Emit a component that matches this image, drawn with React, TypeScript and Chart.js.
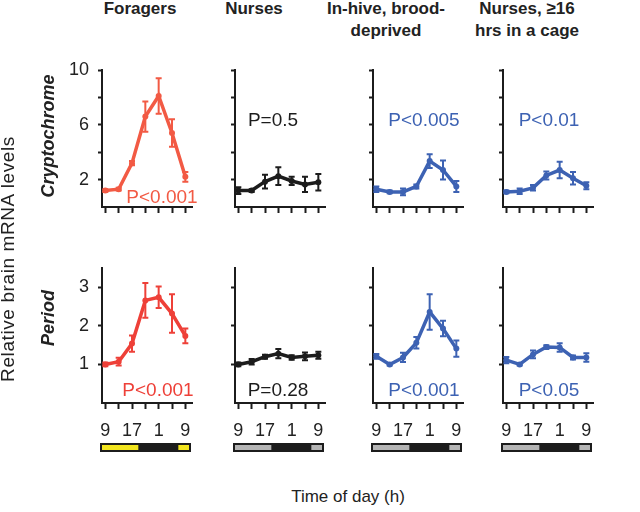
import React, { useEffect, useRef } from "react";
import { Chart, registerables } from "chart.js";

Chart.register(...registerables);

// ---------- data ----------
const hoursSince9 = [0, 4, 8, 12, 16, 20, 24];
const timeLabels = ["9", "13", "17", "21", "1", "5", "9"];
const shownTimeLabels = ["9", "", "17", "", "1", "", "9"];

const groups = ["Foragers", "Nurses", "In-hive, brood-deprived", "Nurses, ≥16 hrs in a cage"];

const cryForagers = [1.2, 1.3, 3.2, 6.6, 8.1, 5.4, 2.2];
const cryForagersSem = [0.1, 0.1, 0.15, 1.1, 1.3, 1.0, 0.35];
const cryNurses = [1.2, 1.2, 1.85, 2.25, 1.9, 1.65, 1.8];
const cryNursesSem = [0.25, 0.1, 0.5, 0.65, 0.3, 0.55, 0.6];
const cryDeprived = [1.3, 1.1, 1.1, 1.5, 3.35, 2.7, 1.5];
const cryDeprivedSem = [0.2, 0.1, 0.25, 0.15, 0.5, 0.7, 0.4];
const cryCage = [1.1, 1.15, 1.4, 2.3, 2.7, 2.1, 1.55];
const cryCageSem = [0.1, 0.2, 0.2, 0.3, 0.6, 0.45, 0.25];

const perForagers = [1.0, 1.07, 1.54, 2.66, 2.74, 2.32, 1.74];
const perForagersSem = [0.05, 0.1, 0.21, 0.45, 0.28, 0.5, 0.19];
const perNurses = [1.0, 1.07, 1.2, 1.28, 1.18, 1.21, 1.24];
const perNursesSem = [0.05, 0.07, 0.05, 0.12, 0.06, 0.1, 0.09];
const perDeprived = [1.21, 1.0, 1.18, 1.56, 2.36, 1.93, 1.41];
const perDeprivedSem = [0.06, 0.03, 0.12, 0.15, 0.46, 0.2, 0.21];
const perCage = [1.11, 1.0, 1.26, 1.45, 1.44, 1.18, 1.18];
const perCageSem = [0.08, 0.03, 0.1, 0.05, 0.11, 0.05, 0.11];

const cryPValues = ["P<0.001", "P=0.5", "P<0.005", "P<0.01"];
const perPValues = ["P<0.001", "P=0.28", "P<0.001", "P<0.05"];

const cryTicks = [2, 4, 6, 8, 10];
const cryTickLabels = [2, 6, 10];
const perTicks = [1, 2, 3];

// light/dark bar in hours since 09:00
const lightBarStart = -1.6;
const lightBarEnd = 25.7;
const lightStarts = [-1.6, 21.9];
const lightEnds = [9.9, 25.7];

// ---------- styles ----------
const AXIS = "#1c1c1c";
const RED_TOP = "#F25A44";
const RED_BOT = "#EE4038";
const BLUE = "#3D62B3";
const BLACK = "#1c1c1c";
const FONT = "'Liberation Sans', Arial, sans-serif";
Chart.defaults.font.family = FONT;

const colX = [102, 235, 373, 503];

const errorBars = {
  id: "errorBars",
  afterDatasetsDraw(chart: any) {
    const { ctx } = chart;
    const xs = chart.scales.x;
    const ys = chart.scales.y;
    chart.data.datasets.forEach((ds: any) => {
      if (!ds.sem) return;
      ctx.save();
      ctx.strokeStyle = ds.borderColor;
      ctx.lineWidth = 2;
      ds.data.forEach((p: any, i: number) => {
        const px = xs.getPixelForValue(p.x);
        const lo = ys.getPixelForValue(p.y - ds.sem[i]);
        const hi = ys.getPixelForValue(p.y + ds.sem[i]);
        ctx.beginPath();
        ctx.moveTo(px, lo);
        ctx.lineTo(px, hi);
        ctx.moveTo(px - 3, lo);
        ctx.lineTo(px + 3, lo);
        ctx.moveTo(px - 3, hi);
        ctx.lineTo(px + 3, hi);
        ctx.stroke();
      });
      ctx.restore();
    });
  },
};

const lightBar = {
  id: "lightBar",
  afterDraw(chart: any, _args: any, opts: any) {
    if (!opts || !opts.show) return;
    const { ctx } = chart;
    const xs = chart.scales.x;
    const top = chart.chartArea.bottom + 40;
    const h = 9;
    ctx.save();
    ctx.fillStyle = AXIS;
    const x0 = xs.getPixelForValue(lightBarStart);
    const x1 = xs.getPixelForValue(lightBarEnd);
    ctx.fillRect(x0, top, x1 - x0, h);
    ctx.fillStyle = opts.color;
    lightStarts.forEach((s, i) => {
      const a = Math.max(xs.getPixelForValue(s), x0 + 2);
      const b = Math.min(xs.getPixelForValue(lightEnds[i]), x1 - 2);
      ctx.fillRect(a, top + 2, b - a, h - 4);
    });
    ctx.restore();
  },
};

type PanelProps = {
  col: number;
  bottom: boolean;
  values: number[];
  sem: number[];
  color: string;
};

function Panel({ col, bottom, values, sem, color }: PanelProps) {
  const ref = useRef<HTMLCanvasElement>(null);
  const left = colX[col] - 45;
  const top = bottom ? 255 : 55;
  const width = 140;
  const height = bottom ? 205 : 162;

  useEffect(() => {
    if (!ref.current) return;
    const yTicks = bottom ? perTicks : cryTicks;
    const chart = new Chart(ref.current, {
      type: "line",
      data: {
        datasets: [
          {
            data: hoursSince9.map((h, i) => ({ x: h, y: values[i] })),
            borderColor: color,
            backgroundColor: color,
            borderWidth: 3.5,
            pointRadius: 3,
            pointBorderWidth: 0,
            tension: 0,
            sem,
          } as any,
        ],
      },
      options: {
        animation: false,
        responsive: false,
        maintainAspectRatio: false,
        layout: { padding: { top: bottom ? 13 : 15, right: 5, left: 0, bottom: 0 } },
        plugins: {
          legend: { display: false },
          tooltip: { enabled: false },
          lightBar: { show: bottom, color: col === 0 ? "#F2E51E" : "#B4B4B4" },
        } as any,
        scales: {
          x: {
            type: "linear",
            min: -1,
            max: 26,
            afterBuildTicks: (s: any) => {
              s.ticks = hoursSince9.map((v) => ({ value: v }));
            },
            afterFit: (s: any) => {
              s.height = bottom ? 57 : 10;
              s.paddingLeft = 0;
              s.paddingRight = 0;
            },
            grid: {
              drawOnChartArea: false,
              drawTicks: true,
              tickLength: 6,
              tickWidth: 2,
              tickColor: AXIS,
            },
            border: { display: true, color: AXIS, width: 2 },
            ticks: {
              autoSkip: false,
              maxRotation: 0,
              padding: 11,
              color: "#222",
              font: { size: 18, family: FONT },
              callback: (v: any) => {
                if (!bottom) return "";
                const i = hoursSince9.indexOf(Number(v));
                return i >= 0 && shownTimeLabels[i] === timeLabels[i] ? timeLabels[i] : "";
              },
            },
          },
          y: {
            type: "linear",
            min: 0,
            max: bottom ? 3.5 : 10,
            afterBuildTicks: (s: any) => {
              s.ticks = yTicks.map((v) => ({ value: v }));
            },
            afterFit: (s: any) => {
              s.width = 45;
              s.paddingTop = 0;
              s.paddingBottom = 0;
            },
            grid: {
              drawOnChartArea: false,
              drawTicks: true,
              tickLength: 4,
              tickWidth: 2,
              tickColor: AXIS,
            },
            border: { display: true, color: AXIS, width: 2 },
            ticks: {
              padding: 9,
              color: "#222",
              font: { size: 18, family: FONT },
              callback: (v: any) => {
                if (col !== 0) return "";
                if (bottom) return String(v);
                return cryTickLabels.includes(Number(v)) ? String(v) : "";
              },
            },
          },
        },
      },
      plugins: [errorBars, lightBar],
    });
    return () => chart.destroy();
  }, []);

  return (
    <canvas
      ref={ref}
      width={width}
      height={height}
      style={{ position: "absolute", left, top, width, height }}
    />
  );
}

const txt: React.CSSProperties = {
  position: "absolute",
  fontFamily: FONT,
  color: "#222",
  whiteSpace: "nowrap",
  textAlign: "center",
};

function Label({ cx, cy, text, size = 18, color = "#222", bold = false, italic = false, rotate = false, spacing = 0 }: any) {
  const w = 300;
  const h = 20;
  return (
    <div
      style={{
        ...txt,
        left: cx - w / 2,
        top: cy - h / 2,
        width: w,
        height: h,
        lineHeight: h + "px",
        fontSize: size,
        color,
        letterSpacing: spacing,
        fontWeight: bold ? "bold" : "normal",
        fontStyle: italic ? "italic" : "normal",
        transform: rotate ? "rotate(-90deg)" : undefined,
      }}
    >
      {text}
    </div>
  );
}

const titleLines = [["Foragers"], ["Nurses"], ["In-hive, brood-", "deprived"], ["Nurses, ≥16", "hrs in a cage"]];
const titleCx = [140, 254, 386, 527];
const cryPCx = [162, 273, 424, 549];
const perPCx = [158, 278, 424, 549];

export default function App() {
  const cry = [cryForagers, cryNurses, cryDeprived, cryCage];
  const crySem = [cryForagersSem, cryNursesSem, cryDeprivedSem, cryCageSem];
  const per = [perForagers, perNurses, perDeprived, perCage];
  const perSem = [perForagersSem, perNursesSem, perDeprivedSem, perCageSem];
  const topColors = [RED_TOP, BLACK, BLUE, BLUE];
  const botColors = [RED_BOT, BLACK, BLUE, BLUE];

  return (
    <div style={{ position: "absolute", left: 0, top: 0, width: 640, height: 512, background: "#fff", overflow: "hidden" }}>
      {titleLines.map((lines, i) => (
        <div
          key={"t" + i}
          title={groups[i]}
          style={{
            ...txt,
            left: titleCx[i] - 80,
            top: -2,
            width: 160,
            fontSize: 17,
            lineHeight: "22px",
            fontWeight: "bold",
          }}
        >
          {lines.map((l, j) => (
            <div key={j}>{l}</div>
          ))}
        </div>
      ))}
      {cry.map((v, i) => (
        <Panel key={"c" + i} col={i} bottom={false} values={v} sem={crySem[i]} color={topColors[i]} />
      ))}
      {per.map((v, i) => (
        <Panel key={"p" + i} col={i} bottom={true} values={v} sem={perSem[i]} color={botColors[i]} />
      ))}
      {cryPValues.map((p, i) => (
        <Label key={"cp" + i} cx={cryPCx[i]} cy={i === 0 ? 197 : 120} text={p} size={19} color={topColors[i]} />
      ))}
      {perPValues.map((p, i) => (
        <Label key={"pp" + i} cx={perPCx[i]} cy={390} text={p} size={19} color={botColors[i]} />
      ))}
      <Label cx={47.5} cy={136} text="Cryptochrome" bold italic rotate />
      <Label cx={47.5} cy={318} text="Period" bold italic rotate />
      <Label cx={8} cy={259} text="Relative brain mRNA levels" size={19} spacing={0.6} rotate />
      <Label cx={348} cy={497} text="Time of day (h)" size={17} />
    </div>
  );
}
